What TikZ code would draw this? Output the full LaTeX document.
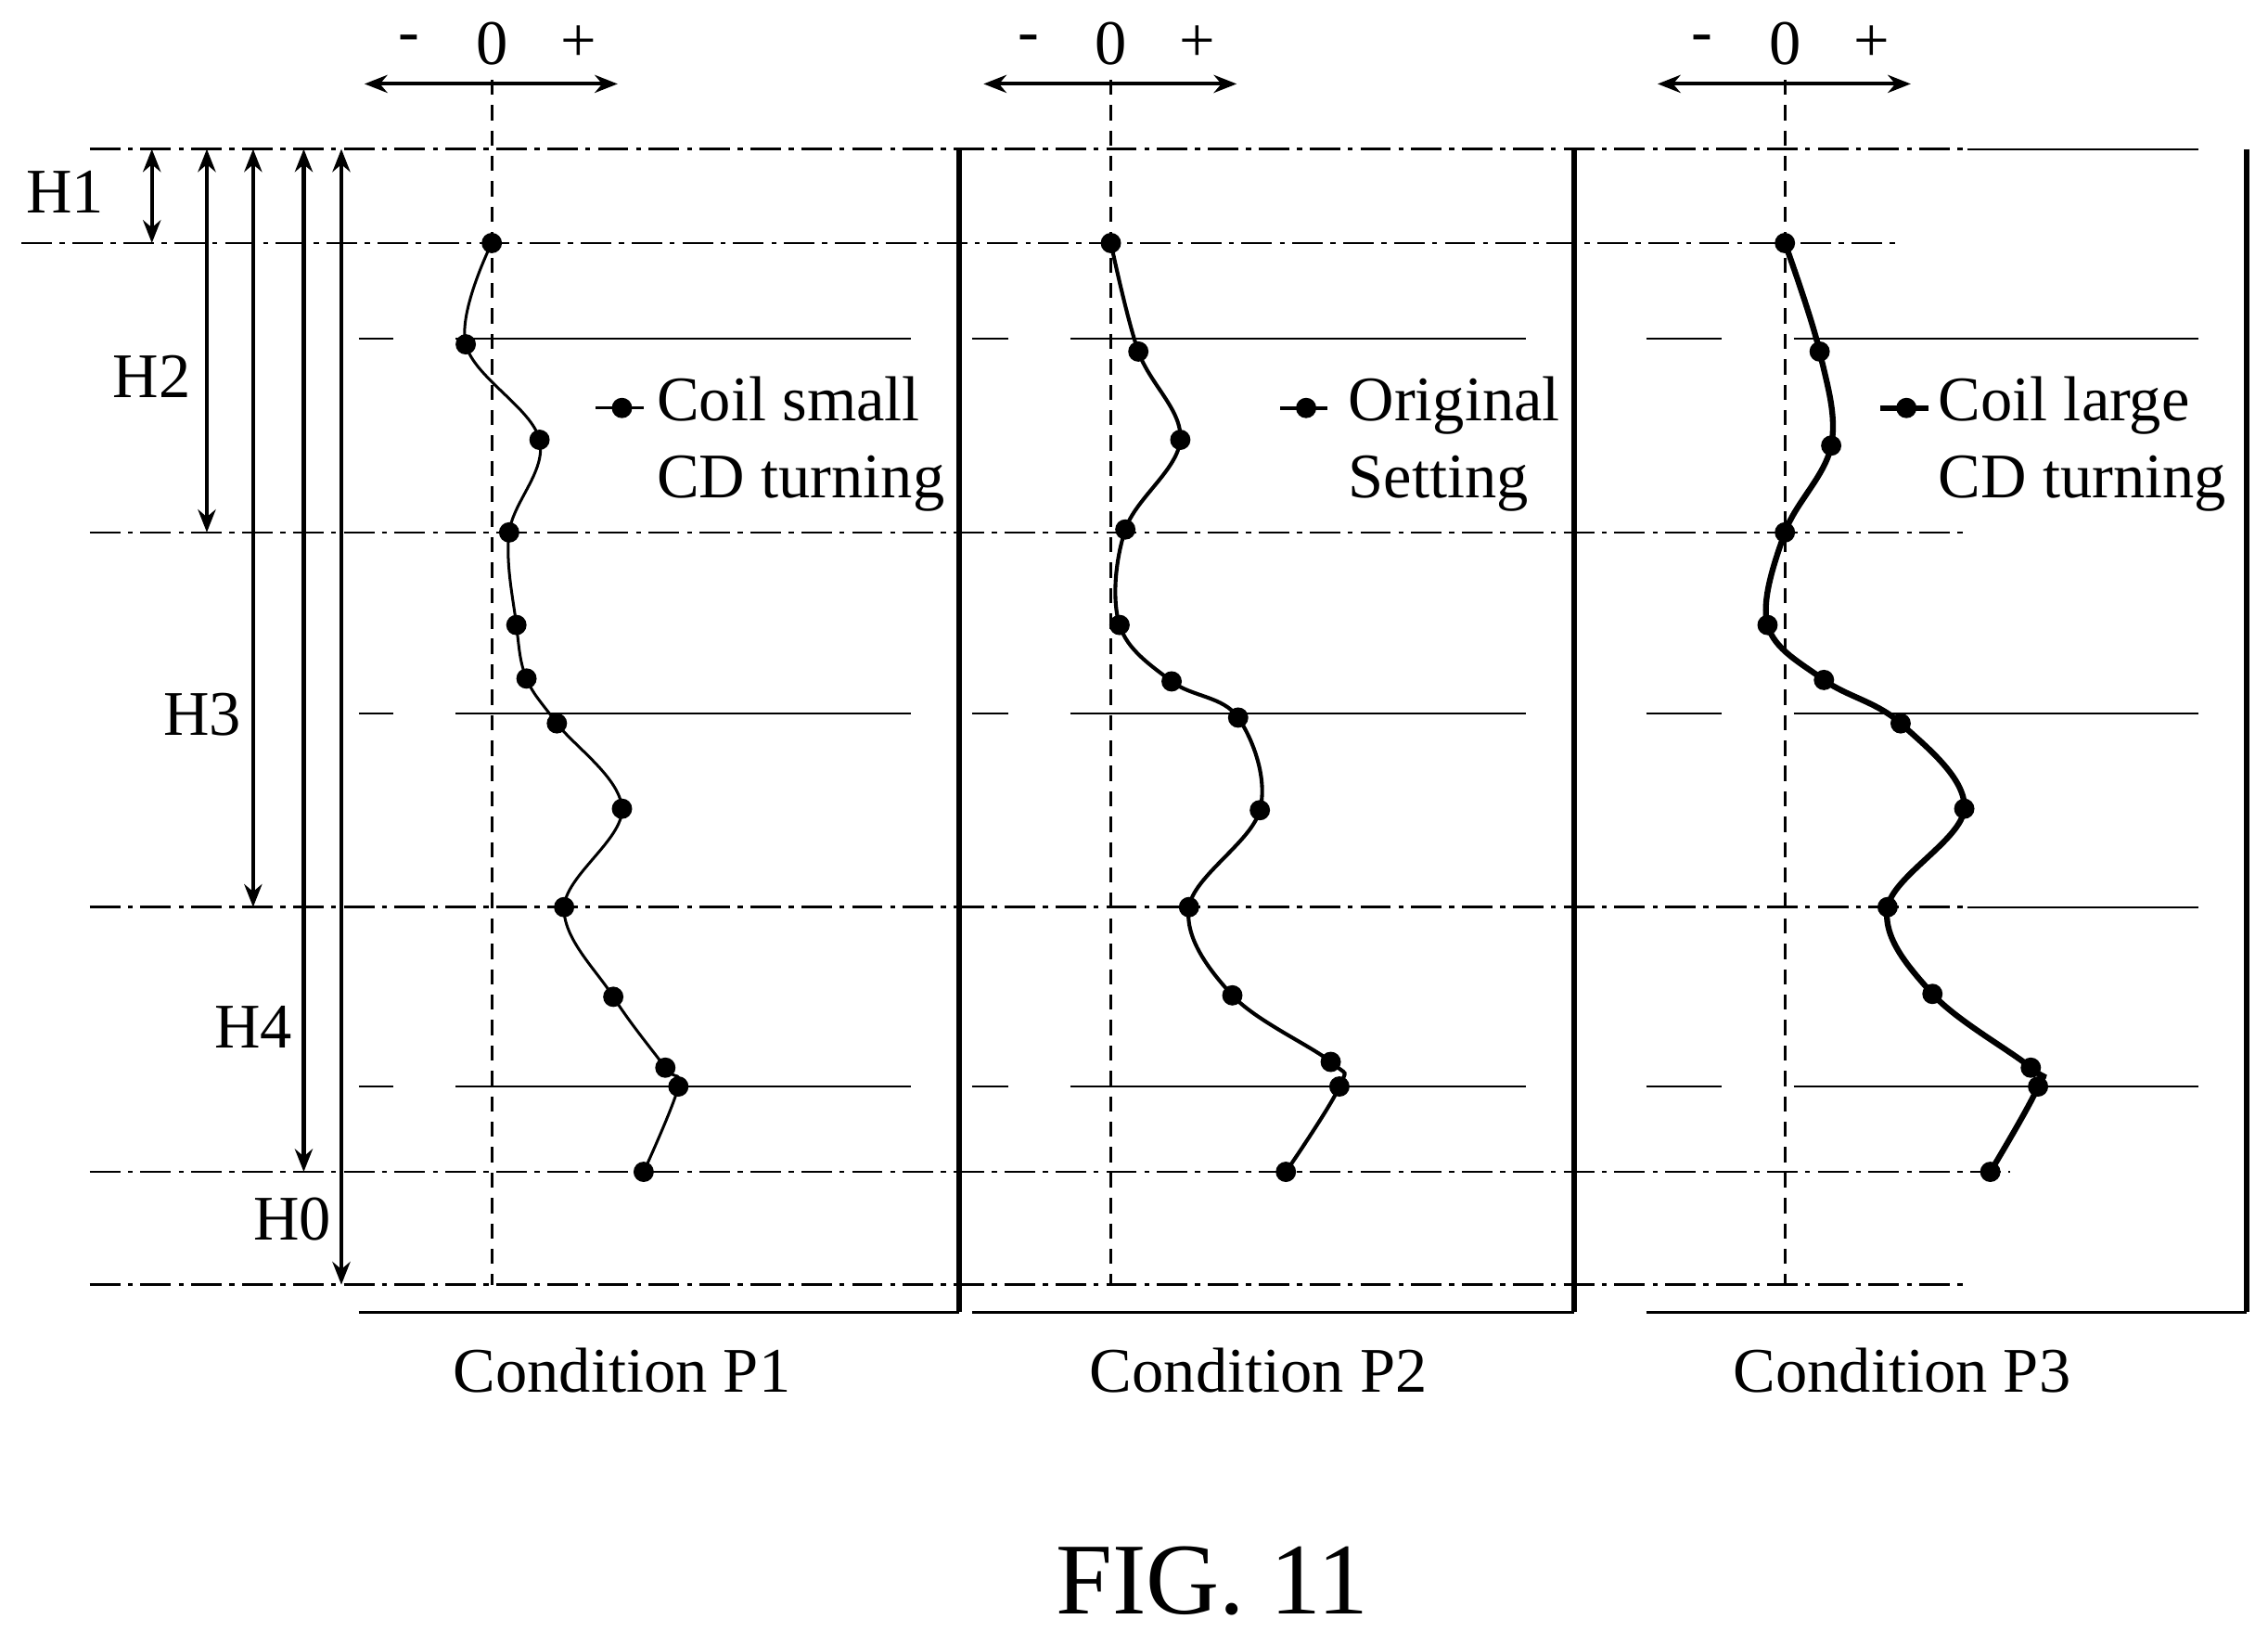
\documentclass[tikz,border=0pt]{standalone}
\usepackage{fontspec}
\setmainfont{Liberation Serif}
\usetikzlibrary{positioning, arrows.meta}

\begin{document}
\begin{tikzpicture}[x=0.02cm, y=-0.02cm, font=\fontsize{25}{30}\selectfont,
	dashdot/.style={line width=0.9pt, dash pattern=on 12pt off 3pt on 2pt off 3pt},
	thin line/.style={line width=0.8pt},
	zero line/.style={line width=1.1pt, dash pattern=on 6pt off 4pt},
	dim/.style={line width=1.5pt, {Stealth[length=9pt,width=7pt]}-{Stealth[length=9pt,width=7pt]}},
	dot/.style={circle, fill, inner sep=0pt, minimum size=8pt}]
	\useasboundingbox (0,0) rectangle (1568,1128);

	% reference levels
	\draw[dashdot] (62,103) -- (1360,103);
	\draw[thin line] (1360,103) -- (1520,103);
	\draw[dashdot] (15,168) -- (1310,168);
	\draw[dashdot] (62,368) -- (1360,368);
	\draw[dashdot] (62,627) -- (1360,627);
	\draw[thin line] (1360,627) -- (1520,627);
	\draw[dashdot] (62,810) -- (1390,810);
	\draw[dashdot] (62,888) -- (1360,888);
	\foreach \y in {234,493,751} {
		\draw[thin line] (248,\y) -- (272,\y) (315,\y) -- (630,\y);
		\draw[thin line] (672,\y) -- (697,\y) (740,\y) -- (1055,\y);
		\draw[thin line] (1138,\y) -- (1190,\y) (1240,\y) -- (1520,\y);
	}

	% panels
	\foreach \l/\z/\r/\c/\n in {248/340/663/430/1, 672/768/1088/870/2, 1138/1234/1553/1315/3} {
		\draw[line width=2.2pt] (\r,103) -- (\r,907);
		\draw[line width=1.1pt] (\l,907) -- (\r,907);
		\draw[zero line] (\z,55) -- (\z,888);
		\draw[dim] (\z-88,58) -- (\z+87,58);
		\node (m\n) at (\z-57,30) {-};
		\node (z\n) at (\z,30) {0};
		\node (p\n) at (\z+60,30) {+};
		\node (c\n) at (\c,947) {Condition P\n};
	}

	% height ranges
	\draw[dim] (105,103) -- (105,168);
	\draw[dim] (143,103) -- (143,368);
	\draw[dim] (175,103) -- (175,627);
	\draw[dim] (210,103) -- (210,810);
	\draw[dim] (236,103) -- (236,888);
	\node (h1) at (45,133) {H1};
	\node (h2) at (105,260) {H2};
	\node (h3) at (140,494) {H3};
	\node (h4) at (175,710) {H4};
	\node (h0) at (202,843) {H0};

	% profiles
	\draw[line width=1.1pt] plot[smooth, tension=0.6] coordinates {(340,168) (322,238) (373,304) (352,368) (357,432) (364,469) (385,500) (430,559) (390,627) (424,689) (460,738) (469,751) (445,810)};
	\foreach \p in {(340,168),(322,238),(373,304),(352,368),(357,432),(364,469),(385,500),(430,559),(390,627),(424,689),(460,738),(469,751),(445,810)}
		\node[dot] at \p {};
	\draw[line width=1.5pt] plot[smooth, tension=0.6] coordinates {(768,168) (787,243) (816,304) (778,366) (774,432) (810,471) (856,496) (871,560) (822,627) (852,688) (920,734) (926,751) (889,810)};
	\foreach \p in {(768,168),(787,243),(816,304),(778,366),(774,432),(810,471),(856,496),(871,560),(822,627),(852,688),(920,734),(926,751),(889,810)}
		\node[dot] at \p {};
	\draw[line width=2.3pt] plot[smooth, tension=0.6] coordinates {(1234,168) (1258,243) (1266,308) (1234,368) (1222,432) (1261,470) (1314,500) (1358,559) (1305,627) (1336,687) (1404,738) (1409,751) (1376,810)};
	\foreach \p in {(1234,168),(1258,243),(1266,308),(1234,368),(1222,432),(1261,470),(1314,500),(1358,559),(1305,627),(1336,687),(1404,738),(1409,751),(1376,810)}
		\node[dot] at \p {};

	% legends
	\draw[line width=1.1pt] (412,282) -- (445,282);
	\node[dot] (l1) at (430,282) {};
	\node[align=left, anchor=west] (t1) at (448,307) {Coil small\\CD turning};
	\draw[line width=1.5pt] (885,282) -- (918,282);
	\node[dot] (l2) at (903,282) {};
	\node[align=left, anchor=west] (t2) at (926,307) {Original\\Setting};
	\draw[line width=2.3pt] (1300,282) -- (1333,282);
	\node[dot] (l3) at (1318,282) {};
	\node[align=left, anchor=west] (t3) at (1334,307) {Coil large\\CD turning};

	\node[font=\fontsize{40}{48}\selectfont] (fig) at (838,1093) {FIG. 11};
\end{tikzpicture}
\end{document}
